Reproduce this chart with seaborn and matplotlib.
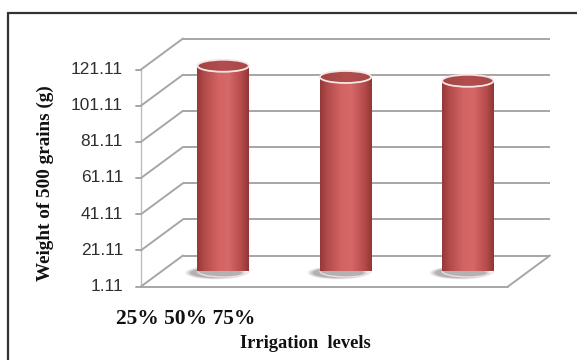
import numpy as np
import matplotlib
matplotlib.use("Agg")
import matplotlib.pyplot as plt
from matplotlib.lines import Line2D
from matplotlib.patches import Ellipse, Arc
from matplotlib.colors import LinearSegmentedColormap
import pandas as pd
import seaborn as sns

# Data
levels = ["25%", "50%", "75%"]
weights = [114.6, 108.4, 106.3]
ytick_values = [1.11, 21.11, 41.11, 61.11, 81.11, 101.11, 121.11]
ytick_labels = ["1.11", "21.11", "41.11", "61.11", "81.11", "101.11", "121.11"]
y_title = "Weight of 500 grains (g)"
x_title = "Irrigation  levels"

sns.set_style("white")
plt.rcParams["font.family"] = ["Liberation Sans", "DejaVu Sans"]

W, H = 577, 360
DPI = 100
fig = plt.figure(figsize=(W / DPI, H / DPI), dpi=DPI)
fig.patch.set_facecolor("white")

# axes spans the middle depth plane of the pseudo-3D box
ax_left, ax_bottom, ax_w, ax_h = 162, 89, 367, 217
ax = fig.add_axes([ax_left / W, ax_bottom / H, ax_w / W, ax_h / H])

df = pd.DataFrame({"level": levels, "weight": weights})
BAR_W = 0.42
sns.barplot(data=df, x="level", y="weight", ax=ax, width=BAR_W,
            color="#c85858", saturation=1, zorder=3)

YMIN, YMAX = 1.11, 121.11
ax.set_xlim(-0.5, 2.5)
ax.set_ylim(YMIN, YMAX)
ax.axis("off")

px_x = ax_w / 3.0            # pixels per category unit
px_y = ax_h / (YMAX - YMIN)  # pixels per value unit
DX = 21 / px_x               # depth offset (half) in data units
DY = 15.5 / px_y

grid_c = "#a6a6a6"
glw = 1.4

# back wall gridlines and left wall diagonals
for v in ytick_values:
    ax.plot([-0.5 + DX, 2.5 + DX], [v + DY, v + DY], color=grid_c, lw=glw,
            clip_on=False, zorder=0.5, solid_capstyle="butt")
    ax.plot([-0.5 - DX, -0.5 + DX], [v - DY, v + DY], color=grid_c, lw=glw,
            clip_on=False, zorder=0.5)
    # tick mark on the front-left edge
    ax.plot([-0.5 - DX - 5 / px_x, -0.5 - DX], [v - DY, v - DY], color=grid_c,
            lw=glw, clip_on=False, zorder=0.5)
for v, lab in zip(ytick_values, ytick_labels):
    ax.text(-0.5 - DX - 18 / px_x, v - DY, lab, ha="right", va="center",
            fontsize=12.4, color="#2e2e2e", clip_on=False)

# front-left vertical edge
ax.plot([-0.5 - DX, -0.5 - DX], [YMIN - DY, YMAX - DY], color="#bdbdbd",
        lw=1.0, clip_on=False, zorder=0.4)

# floor front edge and right diagonal
ax.plot([-0.5 - DX, 2.5 - DX], [YMIN - DY, YMIN - DY], color=grid_c, lw=glw,
        clip_on=False, zorder=0.5)
ax.plot([2.5 - DX, 2.5 + DX], [YMIN - DY, YMIN + DY], color=grid_c, lw=glw,
        clip_on=False, zorder=0.5)

# cylinder shading
body_cmap = LinearSegmentedColormap.from_list(
    "cyl", [(0.0, "#953838"), (0.15, "#b44b4b"), (0.42, "#d46464"),
            (0.6, "#d66868"), (0.85, "#b74c4c"), (1.0, "#903636")])
top_cmap = LinearSegmentedColormap.from_list(
    "cyltop", [(0.0, "#a24444"), (0.5, "#b24e4e"), (1.0, "#a84848")])
grad = np.linspace(0, 1, 256).reshape(1, -1)

EH = 12 / px_y  # ellipse height in data units

for patch, v in zip(ax.patches, weights):
    x0 = patch.get_x()
    w = patch.get_width()
    xc = x0 + w / 2
    patch.set_y(YMIN)
    patch.set_height(v - YMIN)
    patch.set_clip_on(False)
    patch.set_linewidth(0)

    # soft shadow on the floor, cast towards the left
    for k, a in enumerate([0.10, 0.14, 0.18, 0.24]):
        sh = Ellipse((xc - 0.06, YMIN - 1.0), w * (1.2 - 0.07 * k),
                     EH * (1.1 - 0.08 * k), facecolor="#6e6e6e", alpha=a,
                     edgecolor="none", zorder=1, clip_on=False)
        ax.add_patch(sh)

    # body gradient
    im = ax.imshow(grad, extent=[x0, x0 + w, YMIN, v], aspect="auto",
                   cmap=body_cmap, zorder=4, interpolation="bilinear")
    im.set_clip_on(False)

    # rounded bottom
    bot = Ellipse((xc, YMIN), w, EH, facecolor="none", edgecolor="none",
                  zorder=4, clip_on=False)
    ax.add_patch(bot)
    imb = ax.imshow(grad, extent=[x0, x0 + w, YMIN - EH / 2, YMIN],
                    aspect="auto", cmap=body_cmap, zorder=4,
                    interpolation="bilinear")
    imb.set_clip_path(bot)
    imb.set_clip_box(None)
    ax.add_patch(Arc((xc, YMIN), w, EH, theta1=185, theta2=355,
                     edgecolor="#f4dada", lw=1.0, zorder=4.5, clip_on=False))

    # top cap
    top = Ellipse((xc, v), w, EH, facecolor="none", edgecolor="none",
                  zorder=5, clip_on=False)
    ax.add_patch(top)
    imt = ax.imshow(grad, extent=[x0, x0 + w, v - EH / 2, v + EH / 2],
                    aspect="auto", cmap=top_cmap, zorder=5,
                    interpolation="bilinear")
    imt.set_clip_path(top)
    imt.set_clip_box(None)
    ax.add_patch(Ellipse((xc, v), w, EH, facecolor="none",
                         edgecolor="#f7e6e6", lw=1.3, zorder=6,
                         clip_on=False))

ax.set_xlim(-0.5, 2.5)
ax.set_ylim(YMIN, YMAX)

# category labels, axis titles
serif = ["Liberation Serif", "DejaVu Serif"]
fig.text(186 / W, 1 - 319 / H, " ".join(levels),
         ha="center", va="center", fontsize=15.5, fontweight="bold",
         family=serif, color="#111111")
fig.text(305 / W, 1 - 343 / H, x_title, ha="center", va="center",
         fontsize=13.3, fontweight="bold", family=serif, color="#111111")
fig.text(45 / W, 1 - 183 / H, y_title, ha="center", va="center",
         rotation=90, fontsize=13.8, fontweight="bold", family=serif,
         color="#111111")

# outer frame (top and left edges)
fig.add_artist(Line2D([7.5 / W, 1.0], [1 - 12.5 / H, 1 - 12.5 / H],
                      transform=fig.transFigure, color="#333333", lw=1.6))
fig.add_artist(Line2D([7.5 / W, 7.5 / W], [0, 1 - 12.5 / H],
                      transform=fig.transFigure, color="#333333", lw=1.6))

fig.savefig("out.png", dpi=DPI, facecolor="white")
